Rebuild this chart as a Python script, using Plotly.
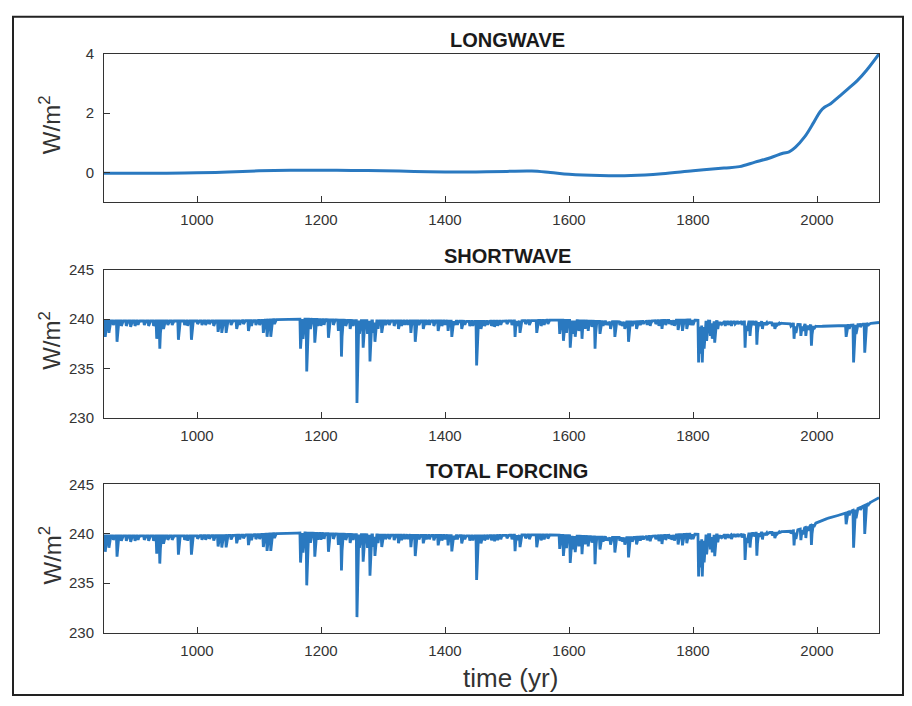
import numpy as np
import plotly.graph_objects as go

# ---------------- data ----------------
LW_YEARS = [850, 950, 1000, 1050, 1100, 1150, 1200, 1250, 1300, 1350, 1400, 1450, 1500, 1540,
            1570, 1600, 1650, 1700, 1750, 1800, 1850, 1875, 1900, 1925, 1945, 1955, 1965, 1980,
            1995, 2005, 2012, 2022, 2035, 2050, 2065, 2080, 2100]
LW_VALUES = [-0.02, -0.02, -0.01, 0.02, 0.06, 0.08, 0.08, 0.07, 0.06, 0.04, 0.02, 0.02, 0.04, 0.05,
             0.0, -0.06, -0.1, -0.1, -0.04, 0.06, 0.15, 0.2, 0.35, 0.5, 0.65, 0.7, 0.85, 1.2,
             1.7, 2.05, 2.2, 2.32, 2.55, 2.82, 3.1, 3.45, 4.0]

SW_BASE_YEARS = [850, 900, 1000, 1050, 1100, 1130, 1170, 1250, 1300, 1400, 1450, 1500, 1550, 1580,
                 1650, 1700, 1750, 1790, 1800, 1850, 1900, 1950, 1980, 2000, 2050, 2080, 2100]
SW_BASE_VALUES = [239.8, 239.8, 239.8, 239.8, 239.85, 239.95, 240.0, 239.85, 239.8, 239.8, 239.75,
                  239.8, 239.85, 239.9, 239.75, 239.7, 239.85, 239.9, 239.9, 239.7, 239.7, 239.55,
                  239.4, 239.25, 239.35, 239.5, 239.65]

# volcanic dips: year and minimum shortwave value (W/m2)
DIP_YEARS = [852, 858, 871, 886, 893, 900, 915, 930, 935, 940, 946, 960, 970, 980, 991, 1001, 1008,
             1020, 1034, 1040, 1047, 1055, 1064, 1075, 1083, 1095, 1107, 1113, 1119, 1125, 1167,
             1171, 1177, 1183, 1190, 1200, 1212, 1220, 1228, 1233, 1240, 1247, 1258, 1262, 1268,
             1275, 1279, 1284, 1287, 1292, 1298, 1310, 1318, 1325, 1335, 1345, 1352, 1358, 1365,
             1375, 1382, 1389, 1400, 1405, 1411, 1420, 1427, 1440, 1451, 1458, 1464, 1475, 1480,
             1490, 1500, 1513, 1521, 1530, 1548, 1560, 1585, 1591, 1596, 1602, 1606, 1610, 1616,
             1621, 1626, 1631, 1637, 1642, 1650, 1660, 1667, 1674, 1682, 1690, 1696, 1702, 1709,
             1720, 1731, 1740, 1750, 1762, 1770, 1776, 1783, 1790, 1796, 1809, 1812, 1815, 1818,
             1822, 1828, 1831, 1835, 1840, 1847, 1852, 1857, 1862, 1868, 1873, 1884, 1887, 1892,
             1898, 1903, 1907, 1912, 1920, 1928, 1932, 1940, 1950, 1963, 1966, 1974, 1977, 1982,
             1986, 1991, 1995, 2047, 2052, 2059, 2063, 2070, 2077, 2082]
DIP_MIN = [238.2, 238.6, 237.7, 239.3, 239.2, 239.3, 239.4, 239.3, 238.0, 237.0, 239.0, 239.4, 237.9,
           239.4, 237.9, 239.5, 239.4, 239.5, 238.7, 238.6, 238.6, 239.4, 239.0, 239.5, 238.8, 239.4,
           238.6, 238.2, 238.2, 239.5, 237.0, 238.0, 234.7, 239.0, 237.6, 239.3, 238.1, 239.4, 238.8,
           236.2, 239.3, 239.0, 231.5, 238.5, 237.1, 238.5, 235.7, 238.6, 237.7, 239.0, 238.6, 239.4,
           239.3, 239.0, 239.4, 238.6, 237.7, 239.4, 239.0, 239.4, 239.3, 238.8, 239.4, 238.8, 238.2,
           239.4, 239.0, 239.3, 235.3, 239.0, 239.3, 239.3, 239.2, 239.4, 239.5, 238.2, 238.6, 239.5,
           238.6, 239.4, 238.5, 237.8, 238.6, 237.1, 238.5, 238.2, 238.8, 238.0, 239.0, 238.8, 239.2,
           237.0, 238.5, 239.4, 239.0, 238.2, 239.4, 239.0, 237.7, 239.3, 239.0, 239.5, 239.3, 239.5,
           239.0, 239.5, 239.3, 238.9, 238.8, 239.0, 239.4, 235.6, 236.5, 235.6, 237.0, 237.8, 238.3,
           238.0, 237.6, 239.0, 239.5, 239.3, 239.4, 239.3, 239.5, 239.5, 237.1, 238.8, 238.3, 239.4,
           237.4, 239.3, 239.0, 239.5, 239.3, 239.0, 239.5, 239.5, 238.0, 238.6, 238.3, 238.8, 238.3,
           238.9, 237.3, 239.0, 238.2, 239.0, 235.6, 238.5, 239.2, 236.6, 239.3]

# smaller teeth that thicken the band just below the baseline
MINOR_DIP_YEARS = [865, 878, 905, 922, 953, 985, 1014, 1027, 1069, 1088, 1101, 1195, 1205, 1252, 1304,
                   1330, 1340, 1370, 1395, 1415, 1432, 1445, 1469, 1485, 1508, 1517, 1536, 1555, 1566,
                   1655, 1663, 1686, 1715, 1726, 1745, 1756, 1766, 1800, 1844, 1879, 1916, 1936, 1958]
MINOR_DIP_MIN = [239.4, 239.3, 239.4, 239.3, 239.4, 239.3, 239.4, 239.3, 239.4, 239.3, 239.4, 239.3,
                 239.4, 239.3, 239.4, 239.3, 239.4, 239.4, 239.3, 239.4, 239.4, 239.3, 239.4, 239.3,
                 239.4, 239.3, 239.4, 239.3, 239.5, 239.3, 239.4, 239.3, 239.4, 239.4, 239.3, 239.4,
                 239.4, 239.4, 239.4, 239.4, 239.4, 239.4, 239.3]

X_TICKS = [1000, 1200, 1400, 1600, 1800, 2000]

# ---------------- build annual series ----------------
years = np.arange(850, 2101)
sw_base = np.interp(years, SW_BASE_YEARS, SW_BASE_VALUES)
anom = np.zeros(len(years))
for y, m in zip(DIP_YEARS + MINOR_DIP_YEARS, DIP_MIN + MINOR_DIP_MIN):
    a = m - np.interp(y, SW_BASE_YEARS, SW_BASE_VALUES)
    for k, w in enumerate([1.0, 0.45, 0.15]):
        i = y - 850 + k
        if 0 <= i < len(years):
            anom[i] = min(anom[i], a * w)
sw = sw_base + anom
total = sw + np.interp(years, LW_YEARS, LW_VALUES)

# ---------------- figure ----------------
W, H = 912, 706
BLUE = '#2a79c0'
FONT = 'Liberation Sans, Arial, sans-serif'
fig = go.Figure()
fig.add_trace(go.Scatter(x=LW_YEARS, y=LW_VALUES, mode='lines', line=dict(color=BLUE, width=3, shape='spline'),
                         xaxis='x', yaxis='y', showlegend=False))
fig.add_trace(go.Scatter(x=years, y=sw, mode='lines', line=dict(color=BLUE, width=2.8),
                         xaxis='x2', yaxis='y2', showlegend=False))
fig.add_trace(go.Scatter(x=years, y=total, mode='lines', line=dict(color=BLUE, width=2.8),
                         xaxis='x3', yaxis='y3', showlegend=False))

def px_x(p):
    return p / W

def px_y(p):
    return 1 - p / H

xdom = [px_x(104), px_x(879)]
panels = [(46, 198), (267, 419), (487, 639)]
tickfont = dict(family=FONT, size=15, color='#333333')
axcommon = dict(showline=True, mirror=True, linecolor='#333333', linewidth=1, ticks='inside',
                ticklen=6, tickcolor='#333333', showgrid=False, zeroline=False, tickfont=tickfont)
layout = dict(width=W, height=H, margin=dict(l=0, r=0, t=0, b=0), plot_bgcolor='white',
              paper_bgcolor='white', showlegend=False)
for i, (top, bot) in enumerate(panels):
    sfx = '' if i == 0 else str(i + 1)
    layout['xaxis' + sfx] = dict(axcommon, domain=xdom, range=[850, 2100], tickvals=X_TICKS,
                                 anchor='y' + sfx, ticklabelstandoff=4)
    if i == 0:
        yr = dict(range=[-1, 4], tickvals=[0, 2, 4])
    else:
        yr = dict(range=[230, 245], tickvals=[230, 235, 240, 245])
    layout['yaxis' + sfx] = dict(axcommon, domain=[px_y(bot), px_y(top)], anchor='x' + sfx,
                                 ticklabelstandoff=6, **yr)
fig.update_layout(**layout)

for top, bot in panels:
    fig.add_annotation(text='W/m<sup>2</sup>', x=px_x(50), y=px_y((top + bot) / 2 - 3), xref='paper',
                       yref='paper', xanchor='center', yanchor='middle', textangle=-90, showarrow=False,
                       font=dict(family=FONT, size=24, color='#333333'))

tfont = dict(family=FONT, size=20, color='#1a1a1a')
for txt, yc in [('<b>LONGWAVE</b>', 32), ('<b>SHORTWAVE</b>', 253), ('<b>TOTAL FORCING</b>', 473)]:
    fig.add_annotation(text=txt, x=px_x(507), y=px_y(yc), xref='paper', yref='paper',
                       xanchor='center', yanchor='middle', showarrow=False, font=tfont)
fig.add_annotation(text='time (yr)', x=px_x(510), y=px_y(686), xref='paper', yref='paper',
                   xanchor='center', yanchor='middle', showarrow=False,
                   font=dict(family=FONT, size=26, color='#333333'))
fig.add_shape(type='rect', xref='paper', yref='paper', x0=px_x(13), x1=px_x(903), y0=px_y(703), y1=px_y(8),
              line=dict(color='#222222', width=2))

fig.write_html('out.html', config={'displayModeBar': False},
               post_script="document.body.style.margin='0';")
